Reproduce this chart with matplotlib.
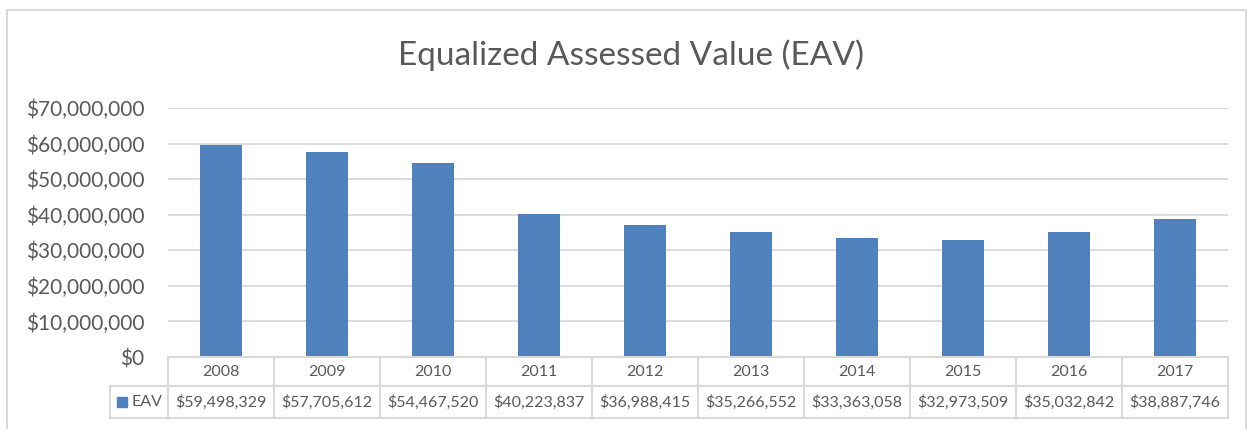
import numpy as np
import matplotlib.pyplot as plt
from matplotlib.patches import Rectangle
import matplotlib.transforms as mtransforms

plt.rcParams['font.family'] = ['Lato', 'DejaVu Sans']

# Data
years = ['2008', '2009', '2010', '2011', '2012', '2013', '2014', '2015', '2016', '2017']
eav = [59498329, 57705612, 54467520, 40223837, 36988415,
       35266552, 33363058, 32973509, 35032842, 38887746]
yticks = [0, 10000000, 20000000, 30000000, 40000000, 50000000, 60000000, 70000000]

bar_color = '#4f81bd'
text_color = '#595959'
line_color = '#d9d9d9'

W, H = 1250, 429
fig = plt.figure(figsize=(W / 100, H / 100), dpi=100)
ax = fig.add_axes([168 / W, 1 - 357 / H, 1060 / W, 249 / H])

x = np.arange(len(years))
ax.bar(x, eav, width=0.4, color=bar_color, zorder=3)
ax.set_xlim(-0.5, len(years) - 0.5)
ax.set_ylim(0, 70000000)
ax.set_yticks(yticks)
ax.set_yticklabels(['${:,.0f}'.format(v) for v in yticks], color=text_color, fontsize=15)
ax.tick_params(axis='y', length=0, pad=17)
ax.set_xticks([])
ax.grid(axis='y', color=line_color, linewidth=1.3, zorder=0)
for s in ax.spines.values():
    s.set_visible(False)

# Title
fig.text(631 / W, 1 - 55 / H, 'Equalized Assessed Value (EAV)', ha='center', va='center',
         fontsize=24, color=text_color)

# Data table below the axis
tr = mtransforms.blended_transform_factory(ax.transData, ax.transAxes)
r1 = -29 / 249
r2 = -61 / 249
leg_left = -0.5 - 58 / 106
kw = dict(color=line_color, linewidth=1.5, clip_on=False, transform=tr, zorder=4)
ax.plot([-0.5, len(years) - 0.5], [0, 0], **kw)
ax.plot([-0.5, len(years) - 0.5], [r1, r1], **kw)
ax.plot([leg_left, -0.5], [r1, r1], **kw)
ax.plot([leg_left, len(years) - 0.5], [r2, r2], **kw)
ax.plot([leg_left, leg_left], [r1, r2], **kw)
for i in range(len(years) + 1):
    ax.plot([i - 0.5, i - 0.5], [0, r2], **kw)
for i, (yr, v) in enumerate(zip(years, eav)):
    ax.text(i, r1 / 2, yr, transform=tr, ha='center', va='center', fontsize=11.5, color=text_color)
    ax.text(i, (r1 + r2) / 2, '${:,.0f}'.format(v), transform=tr, ha='center', va='center',
            fontsize=11.5, color=text_color)
# legend key
ax.add_patch(Rectangle((leg_left + 0.07, (r1 + r2) / 2 - 0.022), 0.09, 0.044,
                       transform=tr, color=bar_color, clip_on=False))
ax.text(leg_left + 0.2, (r1 + r2) / 2, 'EAV', transform=tr, ha='left', va='center',
        fontsize=11.5, color=text_color)

# Chart border
fig.add_artist(Rectangle((7 / W, -0.05), 1239 / W, 1.05 - 10 / H, transform=fig.transFigure,
                         fill=False, edgecolor=line_color, linewidth=1.5))

fig.savefig('out.png', dpi=100, facecolor='white')
